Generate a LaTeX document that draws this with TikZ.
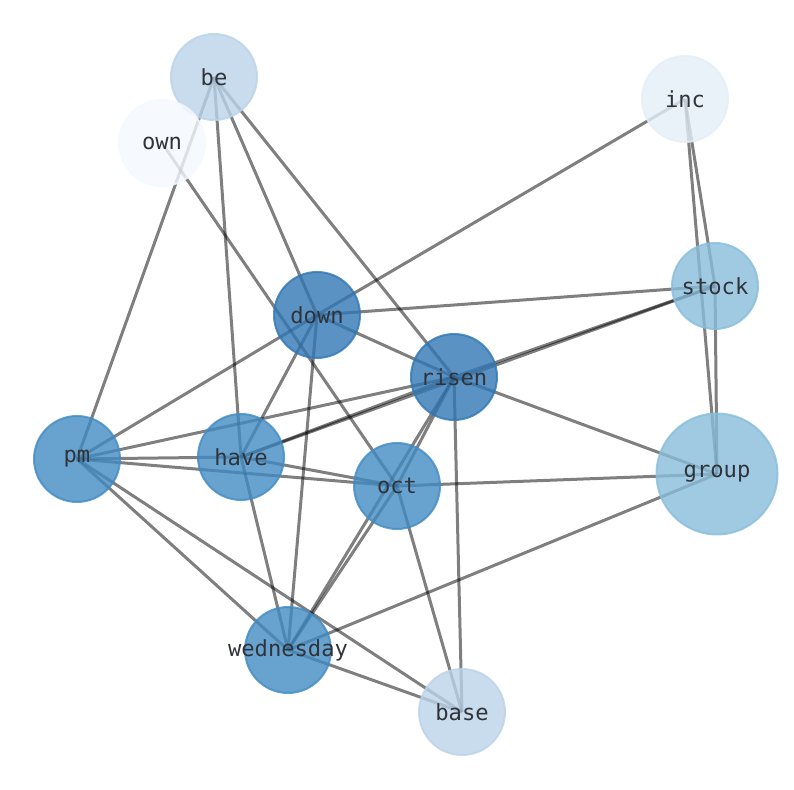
\documentclass[tikz,border=0pt]{standalone}
\usepackage{fontspec}
\newfontfamily\wordfont{DejaVu Sans Mono}
\usetikzlibrary{backgrounds}
\definecolor{bluedark}{RGB}{49,119,181}
\definecolor{bluemid}{RGB}{66,139,195}
\definecolor{bluelight}{RGB}{136,189,219}
\definecolor{bluepale}{RGB}{186,211,232}
\definecolor{bluefaint}{RGB}{228,238,248}
\definecolor{bluewhite}{RGB}{244,249,255}
\definecolor{wordgray}{RGB}{48,52,58}
\def\wordtext#1{\makebox[0pt]{#1}}
\tikzset{
  word/.style={circle, minimum size=1.72cm, inner sep=0pt, line width=0.04cm,
    fill opacity=0.8, draw opacity=0.8, text opacity=1, text=wordgray,
    font=\wordfont\fontsize{12.6}{14}\selectfont},
  bigword/.style={word, minimum size=2.42cm},
  link/.style={line width=0.06cm, draw=black, draw opacity=0.5}
}

\begin{document}
\begin{tikzpicture}
			%%%%% START %%%%%
			\useasboundingbox (0, 0) rectangle (15.88, 15.8);
			
			\node[word, fill=bluepale, draw=bluepale] (be) at (4.28, 14.26) {\wordtext{be}};
			\node[word, fill=bluewhite, draw=bluewhite] (own) at (3.24, 12.94) {\wordtext{own}};
			\node[word, fill=bluefaint, draw=bluefaint] (inc) at (13.7, 13.82) {\wordtext{inc}};
			\node[word, fill=bluedark, draw=bluedark] (down) at (6.34, 9.5) {\wordtext{down}};
			\node[word, fill=bluelight, draw=bluelight] (stock) at (14.3, 10.08) {\wordtext{stock}};
			\node[word, fill=bluedark, draw=bluedark] (risen) at (9.08, 8.26) {\wordtext{risen}};
			\node[word, fill=bluemid, draw=bluemid] (pm) at (1.54, 6.62) {\wordtext{pm}};
			\node[word, fill=bluemid, draw=bluemid] (have) at (4.82, 6.66) {\wordtext{have}};
			\node[word, fill=bluemid, draw=bluemid] (oct) at (7.94, 6.08) {\wordtext{oct}};
			\node[bigword, fill=bluelight, draw=bluelight] (group) at (14.34, 6.32) {\wordtext{group}};
			\node[word, fill=bluemid, draw=bluemid] (wednesday) at (5.76, 2.8) {\wordtext{wednesday}};
			\node[word, fill=bluepale, draw=bluepale] (base) at (9.24, 1.56) {\wordtext{base}};
			
			\begin{scope}[on background layer]
			\draw[link] (be.center) -- (pm.center);
			\draw[link] (be.center) -- (have.center);
			\draw[link] (be.center) -- (down.center);
			\draw[link] (be.center) -- (risen.center);
			\draw[link] (own.center) -- (oct.center);
			
			\draw[link] (inc.center) -- (down.center);
			\draw[link] (inc.center) -- (stock.center);
			\draw[link] (inc.center) -- (group.center);
			
			\draw[link] (stock.center) -- (down.center);
			\draw[link] (stock.center) -- (risen.center);
			\draw[link] (stock.center) -- (have.center);
			\draw[link] (stock.center) -- (group.center);
			
			\draw[link] (down.center) -- (risen.center);
			\draw[link] (down.center) -- (pm.center);
			\draw[link] (down.center) -- (have.center);
			\draw[link] (down.center) -- (wednesday.center);
			
			\draw[link] (risen.center) -- (pm.center);
			\draw[link] (risen.center) -- (have.center);
			\draw[link] (risen.center) -- (oct.center);
			\draw[link] (risen.center) -- (wednesday.center);
			\draw[link] (risen.center) -- (group.center);
			\draw[link] (risen.center) -- (base.center);
			
			\draw[link] (pm.center) -- (have.center);
			\draw[link] (pm.center) -- (oct.center);
			\draw[link] (pm.center) -- (wednesday.center);
			\draw[link] (pm.center) -- (base.center);
			\draw[link] (have.center) -- (oct.center);
			\draw[link] (have.center) -- (wednesday.center);
			
			\draw[link] (oct.center) -- (group.center);
			\draw[link] (oct.center) -- (wednesday.center);
			\draw[link] (oct.center) -- (base.center);
			\draw[link] (wednesday.center) -- (group.center);
			\draw[link] (wednesday.center) -- (base.center);
			\end{scope}
			
			%%%%% END %%%%%
\end{tikzpicture}
\end{document}
